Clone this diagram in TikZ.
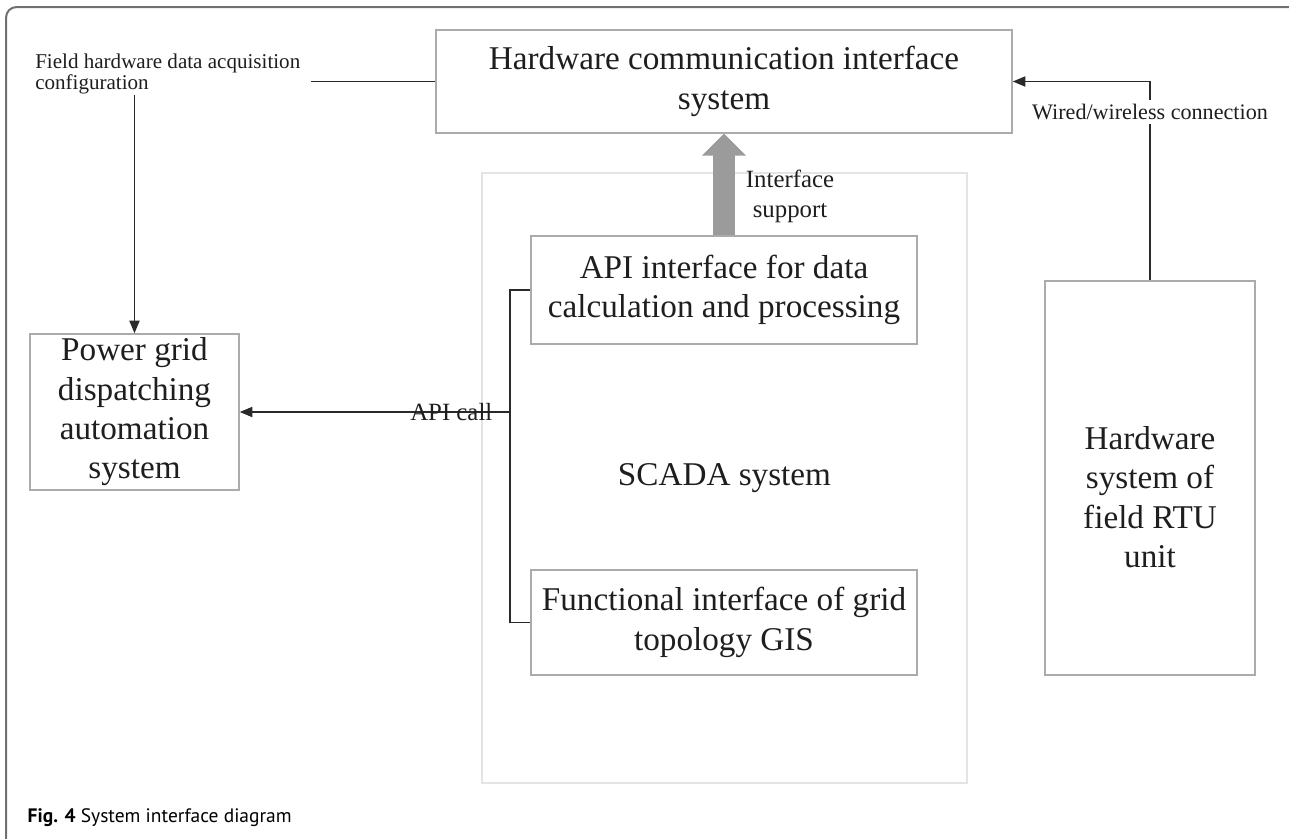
\documentclass[tikz,border=0pt]{standalone}
\usepackage{fontspec}
\setmainfont{Liberation Serif}
\newfontfamily\capfont{PT Sans}
\usetikzlibrary{arrows.meta}

\definecolor{txt}{HTML}{1E1E1E}
\definecolor{boxgray}{HTML}{ABABAB}
\definecolor{scadagray}{HTML}{E4E4E4}
\definecolor{linkgray}{HTML}{2A2A2A}
\definecolor{fatgray}{HTML}{9B9B9B}
\definecolor{framegray}{HTML}{707070}

\begin{document}
\begin{tikzpicture}[x=0.75pt,y=-0.75pt,
    every node/.style={text=txt},
    box/.style={draw=boxgray,line width=1pt,inner sep=0pt,align=center,
        font=\fontsize{24.9}{29.5}\selectfont},
    link/.style={draw=linkgray,line width=1.4pt},
    tip/.style={-{Triangle[length=9.5pt,width=7.5pt]}},
    small/.style={font=\fontsize{15.8}{15.8}\selectfont,inner sep=0pt},
    mid/.style={font=\fontsize{18.6}{22.5}\selectfont,inner sep=0pt},
    fat/.style={draw=fatgray,line width=16.5pt,-{Triangle[length=16.5pt,width=32pt]}}]
    \useasboundingbox (0,0) rectangle (1289,839);
    \draw[framegray,line width=1.5pt,rounded corners=8pt] (6,839) -- (6,7) -- (1289,7);

    % boxes
    \node[box,draw=scadagray,minimum width=363.75pt,minimum height=457.5pt] (scada) at (724.5,478) {SCADA system};
    \node[box,minimum width=432pt,minimum height=77.25pt] (hcis) at (724,81.5) {Hardware communication interface\\system};
    \node[box,minimum width=289.5pt,minimum height=81pt] (api) at (724,290) {API interface for data\\calculation and processing};
    \node[box,minimum width=289.5pt,minimum height=78.75pt] (func) at (724,622.5) {Functional interface of grid\\topology GIS};
    \node[box,minimum width=156.75pt,minimum height=117pt] (grid) at (134.5,412) {Power grid\\dispatching\\automation\\system};
    \node[box,minimum width=157.5pt,minimum height=295.5pt] (rtu) at (1150,478) {};
    \node[box,draw=none] (rtutext) at (1150,497) {Hardware\\system of\\field RTU\\unit};

    % labels
    \node[small,align=left,anchor=north west] (field) at (35,54) {Field hardware data acquisition\\configuration};
    \node[mid,align=center] (support) at (790,196) {Interface\\support};
    \coordinate (fieldend) at (311,81.5);
    \coordinate (tap) at (511,412);

    % connectors
    \draw[link] (fieldend) -- (hcis.west);
    \draw[link,tip] (field.south -| grid.north) -- (grid.north);
    \draw[fat] (api.north) -- (hcis.south);
    \draw[link] (api.west) -- ++(-20,0) |- (func.west);
    \draw[link,tip] (tap) -- (grid.east) node[mid,pos=0.22] (apicall) {API call};
    \draw[link,tip] (rtu.north) |- (hcis.east);
    \node[small,font=\fontsize{16.6}{16.6}\selectfont,fill=white,inner sep=3pt] (wired) at (1150,112) {Wired/wireless connection};

    \node[anchor=base west,font=\capfont\fontsize{14.6}{16}\selectfont,text=black] (caption) at (23,822) {\textbf{Fig. 4} System interface diagram};
\end{tikzpicture}
\end{document}
